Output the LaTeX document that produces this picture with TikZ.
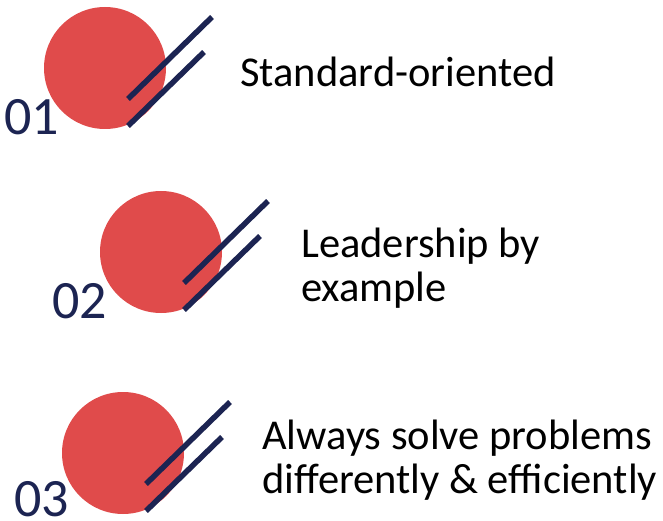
\documentclass[tikz,border=0pt]{standalone}
\usepackage{fontspec}
\setmainfont{Carlito}
\usepackage{xcolor}
\usepackage{tikz}
\usetikzlibrary{calc, positioning}
\definecolor{dotred}{HTML}{E04B4B}
\definecolor{navy}{HTML}{1C2452}

\begin{document}
\begin{tikzpicture}[x=1pt,y=-1pt,
                    dot node/.style={circle,fill=dotred,minimum size=122pt,inner sep=0pt},
                    num node/.style={anchor=base west,inner sep=0pt,text=navy,font=\fontsize{54}{54}\selectfont},
                    item node/.style={anchor=base west,inner sep=0pt,align=left,font=\fontsize{42.5}{44}\selectfont},
                    bar/.style={draw=navy,line width=5.5pt}]
\useasboundingbox (0,0) rectangle (663,521);

 \foreach \n/\x/\y in {1/105/68,2/161/252,3/123/453}
   {\node[dot node] (Dot\n) at (\x,\y) {};
    \draw[bar] ($(Dot\n)+(23,31)$) -- ($(Dot\n)+(107,-51)$);
    \draw[bar] ($(Dot\n)+(23,58)$) -- ($(Dot\n)+(99,-16)$);}

\node[num node] (Num1) at (4,135) {01};
\node[num node] (Num2) at (52,318) {02};
\node[num node] (Num3) at (14,516) {03};

% base anchor sits on the last line
\node[item node] (Label1) at (240,87) {Standard-oriented};
\node[item node] (Label2) at (301,301) {Leadership by\\example};
\node[item node] (Label3) at (262,493) {Always solve problems\\differently \& efficiently};

\end{tikzpicture}
\end{document}
